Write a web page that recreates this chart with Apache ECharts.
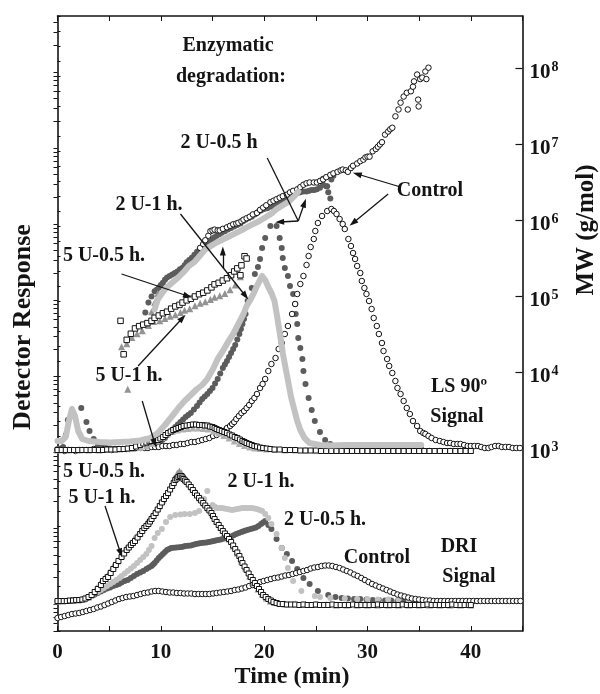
<!DOCTYPE html>
<html>
<head>
<meta charset="utf-8">
<script src="https://cdn.jsdelivr.net/npm/echarts@6/dist/echarts.min.js"></script>
<style>
  html, body { margin: 0; padding: 0; background: #fff; }
  #chart { width: 600px; height: 694px; }
</style>
</head>
<body>
<div id="chart"></div>
<script>
// ---- tick labels ----
const timeLabels = [0, 10, 20, 30, 40];
const mwExponents = [3, 4, 5, 6, 7, 8];

// ---- LS 90° detector response: [time (min), response (a.u.)] ----
const lsControl = [[0,18.1],[0.35,18.1],[0.7,18.0],[1.05,18.1],[1.4,18.1],[1.75,18.0],[2.1,18.1],[2.45,18.1],[2.8,18.1],[3.15,18.1],[3.5,18.2],[3.85,18.1],[4.2,18.1],[4.55,18.2],[4.9,18.2],[5.25,18.1],[5.6,18.2],[5.95,18.2],[6.3,18.2],[6.65,18.2],[7.0,18.2],[7.35,18.3],[7.7,18.3],[8.05,18.3],[8.4,18.3],[8.75,18.3],[9.1,18.4],[9.45,18.4],[9.8,18.4],[10.15,18.5],[10.5,18.5],[10.85,18.5],[11.2,18.6],[11.55,18.6],[11.9,18.7],[12.25,18.7],[12.6,18.8],[12.95,18.9],[13.3,18.9],[13.65,19.0],[14.0,19.1],[14.35,19.2],[14.7,19.3],[15.05,19.5],[15.4,19.6],[15.7,19.8],[16.05,20.0],[16.4,20.3],[16.7,20.5],[16.9,20.7],[17.1,20.9],[17.3,21.2],[17.55,21.5],[17.8,21.8],[18.05,22.0],[18.3,22.3],[18.55,22.6],[18.8,23.0],[19.05,23.3],[19.3,23.7],[19.6,24.3],[19.85,24.7],[20.1,25.2],[20.4,26.0],[20.7,26.7],[21.1,27.3],[21.4,28.2],[21.7,28.8],[22.0,29.7],[22.3,30.5],[22.7,31.7],[23.0,32.7],[23.2,33.7],[23.5,34.7],[23.8,35.5],[24.1,36.6],[24.3,37.5],[24.5,38.4],[24.8,39.2],[24.95,40.0],[25.2,40.8],[25.6,41.5],[26.1,42.0],[26.5,42.2],[26.75,42.0],[27.0,41.7],[27.3,41.2],[27.6,40.7],[27.8,40.2],[28.15,39.2],[28.4,38.5],[28.6,37.8],[28.8,37.2],[29.0,36.5],[29.3,35.8],[29.45,35.0],[29.7,34.3],[29.9,33.7],[30.15,33.0],[30.4,32.2],[30.6,31.3],[30.9,30.5],[31.1,29.7],[31.4,28.8],[31.55,28.0],[31.9,27.2],[32.1,26.5],[32.4,25.8],[32.7,25.0],[32.9,24.3],[33.2,23.7],[33.5,23.0],[33.8,22.3],[34.1,21.7],[34.4,21.0],[34.8,20.5],[35.1,20.0],[35.4,19.8],[35.6,19.7],[35.9,19.5],[36.2,19.3],[36.6,19.1],[37.0,19.0],[37.35,18.9],[37.7,18.8],[38.0,18.8],[38.35,18.7],[38.7,18.7],[39.0,18.7],[39.35,18.6],[39.7,18.5],[40.0,18.5],[40.35,18.5],[40.7,18.5],[41.0,18.4],[41.35,18.3],[41.7,18.3],[42.0,18.4],[42.35,18.5],[42.7,18.5],[43.0,18.4],[43.35,18.4],[43.7,18.4],[44.05,18.3],[44.4,18.3],[44.75,18.3]];

const ls2U05 = [[0,18.2],[0.3,18.25],[0.55,18.4],[0.8,19.6],[1.0,21.1],[2.3,22.3],[2.8,20.9],[3.1,20.0],[3.5,19.2],[3.9,18.5],[4.3,18.35],[4.7,18.3],[5.1,18.25],[5.5,18.2],[5.9,18.2],[6.3,18.2],[6.7,18.2],[7.1,18.2],[7.5,18.25],[7.9,18.3],[8.3,18.35],[8.7,18.45],[9.0,18.5],[9.2,18.6],[9.4,18.7],[9.65,18.8],[9.9,18.9],[10.15,19.1],[10.4,19.3],[10.65,19.6],[10.9,19.9],[11.15,20.15],[11.4,20.4],[11.65,20.65],[11.9,20.9],[12.15,21.15],[12.4,21.4],[12.65,21.6],[12.9,21.8],[13.2,22.15],[13.5,22.5],[13.75,22.85],[14.0,23.2],[14.25,23.45],[14.5,23.7],[14.75,24.0],[15.0,24.3],[15.25,24.75],[15.5,25.2],[15.75,25.75],[16.0,26.3],[16.2,26.65],[16.4,27.0],[16.6,27.4],[16.8,27.8],[17.0,28.2],[17.2,28.6],[17.4,29.15],[17.6,29.7],[17.75,30.2],[17.9,30.7],[18.05,31.2],[18.2,31.7],[18.4,33.0],[18.8,34.3],[19.1,35.7],[19.4,36.4],[19.6,37.2],[19.8,38.3],[20.1,39.3],[20.6,40.5],[21.2,40.5],[21.5,39.3],[21.7,38.3],[21.8,37.3],[22.0,36.3],[22.3,35.5],[22.5,34.5],[22.8,33.7],[23.0,32.7],[23.05,31.7],[23.2,30.7],[23.3,29.3],[23.5,28.3],[23.7,27.2],[23.8,26.0],[24.0,24.7],[24.3,23.3],[24.6,22.1],[24.9,21.0],[25.4,19.9],[25.9,19.1],[26.4,18.7],[27.0,18.4],[27.6,18.3],[28.2,18.25],[28.8,18.2],[29.4,18.2],[30.0,18.2],[30.6,18.2],[31.2,18.2],[31.8,18.2],[32.4,18.2],[33.0,18.2],[33.6,18.2],[34.2,18.2],[34.8,18.2],[35.2,18.2]];

const ls2U1 = [[0,19.0],[0.4,19.0],[0.8,19.4],[1.1,21.0],[1.4,22.2],[1.7,21.5],[2.0,20.0],[2.4,19.2],[3.0,19.0],[4.1,18.9],[5.1,18.85],[6.1,18.9],[7.0,18.95],[8.0,19.05],[9.0,19.3],[9.7,19.8],[10.4,20.6],[11.1,21.5],[11.7,22.3],[12.3,23.0],[13.0,23.7],[13.5,24.2],[14.0,24.6],[14.5,25.2],[15.1,26.3],[15.5,27.2],[16.0,28.0],[16.5,28.9],[17.0,29.7],[17.5,30.7],[18.0,31.7],[18.3,32.5],[18.6,33.0],[19.0,33.8],[19.3,34.5],[19.6,35.1],[19.8,35.5],[20.1,35.1],[20.4,34.4],[20.7,33.8],[21.0,33.0],[21.2,31.8],[21.4,30.5],[21.6,29.2],[21.8,27.8],[22.0,26.7],[22.2,25.6],[22.4,24.5],[22.6,23.4],[22.9,22.2],[23.2,21.0],[23.5,20.1],[23.9,19.3],[24.4,18.8],[25.4,18.6],[26.4,18.55],[28,18.6],[30,18.6],[32,18.6],[35.2,18.6]];

const ls5U05 = [[0,18.1],[0.4,18.1],[0.8,18.1],[1.2,18.1],[1.6,18.1],[2.0,18.1],[2.4,18.1],[2.8,18.1],[3.2,18.1],[3.6,18.1],[4.0,18.1],[4.4,18.1],[4.8,18.15],[5.2,18.15],[5.6,18.15],[6.0,18.2],[6.4,18.2],[6.8,18.25],[7.2,18.3],[7.6,18.45],[8.0,18.6],[8.3,18.75],[8.6,18.85],[8.9,18.95],[9.1,19.0],[9.4,19.05],[9.7,19.1],[9.95,19.25],[10.2,19.4],[10.45,19.6],[10.7,19.8],[10.95,19.95],[11.2,20.1],[11.45,20.2],[11.7,20.3],[11.95,20.4],[12.2,20.5],[12.5,20.55],[12.8,20.6],[13.1,20.65],[13.4,20.65],[13.7,20.6],[14.0,20.6],[14.25,20.55],[14.5,20.55],[14.75,20.45],[15.0,20.4],[15.2,20.3],[15.4,20.2],[15.65,20.1],[15.9,20.0],[16.15,19.9],[16.4,19.8],[16.65,19.65],[16.9,19.55],[17.15,19.4],[17.4,19.3],[17.65,19.15],[17.9,19.0],[18.1,18.9],[18.3,18.8],[18.55,18.7],[18.8,18.6],[19.05,18.5],[19.3,18.45],[19.6,18.35],[19.9,18.3],[20.25,18.25],[20.6,18.2],[21.0,18.15],[21.5,18.15],[22.0,18.1],[22.5,18.1],[23.0,18.1],[23.5,18.05],[24.0,18.05],[24.5,18.05],[25.0,18.05],[25.5,18.0],[26,18.0],[26.5,18.0],[27,18.0],[27.5,18.0],[28,18.0],[28.5,18.0],[29,18.0],[29.5,18.0],[30,18.0],[30.5,18.0],[31,18.0],[31.5,18.0],[32,18.0],[32.5,18.0],[33,18.0],[33.5,18.0],[34,18.0],[34.5,18.0],[35,18.0],[35.5,18.0],[36,18.0],[36.5,18.0],[37,18.0],[37.5,18.0],[38,18.0],[38.5,18.0],[39,18.0],[39.5,18.0],[40,18.0]];

const ls5U1 = [[0,18.1],[1,18.1],[2,18.1],[3,18.1],[4,18.1],[5,18.15],[6,18.2],[7,18.25],[8,18.35],[8.6,18.5],[9.1,18.75],[9.6,19.0],[10.1,19.35],[10.6,19.7],[11.1,19.95],[11.6,20.1],[12.1,20.2],[12.6,20.25],[13.1,20.3],[13.6,20.3],[14.1,20.25],[14.6,20.2],[15.1,20.0],[15.6,19.8],[16.1,19.55],[16.6,19.3],[17.1,19.0],[17.6,18.75],[18.1,18.55],[18.6,18.4],[19.1,18.3],[19.6,18.25],[20.2,18.2],[21,18.15],[22,18.1],[23,18.1],[24,18.1],[25,18.1],[26,18.05],[27,18.05],[28,18.05],[29,18.05],[30,18.05],[31,18.05],[32,18.05],[33,18.05],[34,18.05],[35,18.05],[36,18.05],[37,18.05],[38,18.05],[39,18.05],[40,18.05]];

// ---- molar mass from light scattering: [time (min), log10 MW (g/mol)] ----
const mwControl = [[13.8,5.64],[14.1,5.69],[14.3,5.74],[14.6,5.80],[14.8,5.86],[15.0,5.87],[15.2,5.88],[15.5,5.87],[15.7,5.87],[16.0,5.89],[16.4,5.91],[16.7,5.93],[17.0,5.95],[17.3,5.96],[17.5,5.97],[17.8,5.99],[18.0,6.01],[18.3,6.03],[18.6,6.05],[18.9,6.08],[19.3,6.10],[19.6,6.14],[19.9,6.17],[20.2,6.20],[20.6,6.24],[20.9,6.26],[21.2,6.28],[21.5,6.30],[21.8,6.32],[22.2,6.34],[22.5,6.37],[22.8,6.39],[23.2,6.41],[23.5,6.44],[23.8,6.47],[24.1,6.49],[24.4,6.50],[24.8,6.50],[25.1,6.50],[25.4,6.52],[25.7,6.54],[26.0,6.57],[26.4,6.60],[26.7,6.62],[27.1,6.64],[27.4,6.66],[27.6,6.67],[27.9,6.66],[28.1,6.64],[28.4,6.69],[28.6,6.72],[29.0,6.75],[29.3,6.78],[29.6,6.80],[29.8,6.83],[30.0,6.84],[30.2,6.84],[30.5,6.91],[30.8,6.94],[31.0,6.97],[31.2,7.00],[31.4,7.03],[31.7,7.13],[32.0,7.17],[32.2,7.20],[32.4,7.22],[32.7,7.37],[33.0,7.46],[33.2,7.55],[33.5,7.63],[33.8,7.68],[33.9,7.46],[34.2,7.70],[34.4,7.76],[34.5,7.83],[34.8,7.92],[34.9,7.59],[34.95,7.50],[35.1,7.86],[35.3,7.88],[35.6,7.96],[35.7,7.86],[35.9,8.01]];

const mw2U05 = [[8.5,4.79],[8.8,4.92],[9.1,5.0],[9.4,5.07],[9.6,5.09],[9.8,5.12],[10.0,5.15],[10.2,5.18],[10.4,5.22],[10.6,5.25],[10.85,5.27],[11.1,5.29],[11.35,5.31],[11.6,5.33],[11.85,5.36],[12.1,5.38],[12.3,5.41],[12.5,5.45],[12.75,5.48],[13.0,5.51],[13.25,5.55],[13.5,5.59],[13.75,5.62],[14.0,5.65],[14.25,5.67],[14.5,5.70],[14.75,5.72],[15.0,5.75],[15.2,5.78],[15.4,5.80],[15.65,5.82],[15.9,5.84],[16.2,5.86],[16.5,5.88],[16.8,5.90],[17.1,5.92],[17.4,5.94],[17.7,5.96],[17.95,5.99],[18.2,6.01],[18.5,6.03],[18.8,6.05],[19.1,6.08],[19.4,6.11],[19.7,6.13],[20.0,6.15],[20.3,6.16],[20.6,6.18],[20.9,6.20],[21.2,6.22],[21.45,6.24],[21.7,6.26],[22.0,6.28],[22.3,6.30],[22.6,6.32],[22.9,6.34],[23.2,6.36],[23.5,6.37],[23.8,6.38],[24.1,6.38],[24.35,6.39],[24.6,6.40],[24.85,6.40],[25.1,6.41],[25.4,6.43],[25.7,6.47],[25.7,6.55],[26.0,6.45],[26.1,6.45],[26.2,6.37],[26.4,6.29],[26.5,6.54],[26.7,6.59]];

const mw2U1 = [[9.4,4.83],[9.7,4.96],[10.1,5.04],[10.5,5.11],[11.0,5.17],[11.6,5.24],[12.2,5.32],[12.7,5.40],[13.3,5.46],[13.8,5.54],[14.3,5.62],[14.9,5.67],[15.4,5.71],[16.0,5.75],[16.6,5.79],[17.2,5.83],[17.8,5.87],[18.3,5.91],[18.9,5.95],[19.5,5.99],[20.1,6.04],[20.7,6.09],[21.2,6.15],[21.8,6.20],[22.4,6.25],[23.0,6.33],[23.3,6.38]];

const mw5U05 = [[6.1,4.68],[6.4,4.24],[6.7,4.43],[7.1,4.51],[7.5,4.58],[7.9,4.61],[8.3,4.63],[8.7,4.65],[9.1,4.68],[9.4,4.72],[9.8,4.75],[10.2,4.78],[10.6,4.80],[11.0,4.84],[11.4,4.87],[11.8,4.89],[12.1,4.92],[12.5,4.95],[12.9,4.97],[13.3,5.0],[13.7,5.03],[14.1,5.05],[14.5,5.08],[14.9,5.12],[15.2,5.16],[15.6,5.18],[16.0,5.21],[16.4,5.24],[16.8,5.28],[17.1,5.33],[17.4,5.37],[17.7,5.28],[17.8,5.41],[18.1,5.53],[18.3,5.50]];

const mw5U1 = [[6.8,3.78],[6.2,4.34],[6.7,4.38],[7.2,4.46],[7.7,4.51],[8.2,4.55],[8.8,4.62],[9.1,4.80],[9.4,4.92],[9.7,5.04],[9.3,4.67],[9.9,4.68],[10.4,4.71],[10.9,4.74],[11.4,4.76],[11.9,4.79],[12.3,4.82],[12.8,4.84],[13.3,4.88],[13.8,4.91],[14.3,4.93],[14.8,4.96],[15.2,4.99],[15.7,5.01],[16.2,5.04],[16.7,5.09],[17.2,5.15],[17.7,5.26]];

// ---- DRI detector response: [time (min), response (a.u.)] ----
const driControl = [[0,1.3],[0.35,1.4],[0.7,1.5],[1.05,1.6],[1.4,1.7],[1.75,1.75],[2.1,1.8],[2.45,1.9],[2.8,2.0],[3.15,2.1],[3.5,2.2],[3.85,2.35],[4.2,2.45],[4.55,2.6],[4.9,2.75],[5.25,2.9],[5.6,3.05],[5.95,3.2],[6.3,3.3],[6.65,3.4],[7.0,3.45],[7.35,3.5],[7.7,3.6],[8.05,3.7],[8.4,3.8],[8.75,3.85],[9.1,3.95],[9.45,4.0],[9.8,4.0],[10.15,3.95],[10.5,3.9],[10.85,3.85],[11.2,3.85],[11.55,3.8],[11.9,3.8],[12.25,3.75],[12.6,3.75],[12.95,3.75],[13.3,3.7],[13.65,3.7],[14.0,3.7],[14.35,3.7],[14.7,3.7],[15.05,3.75],[15.4,3.8],[15.75,3.85],[16.1,3.9],[16.45,3.95],[16.8,4.0],[17.15,4.1],[17.5,4.15],[17.85,4.25],[18.2,4.35],[18.55,4.5],[18.9,4.6],[19.25,4.75],[19.6,4.9],[19.95,5.0],[20.3,5.1],[20.65,5.2],[21.0,5.3],[21.35,5.35],[21.7,5.45],[22.05,5.55],[22.4,5.6],[22.75,5.7],[23.1,5.8],[23.45,5.9],[23.8,6.0],[24.15,6.1],[24.5,6.25],[24.85,6.35],[25.2,6.4],[25.55,6.5],[25.9,6.55],[26.25,6.55],[26.6,6.5],[26.95,6.4],[27.3,6.3],[27.65,6.15],[28.0,6.0],[28.35,5.85],[28.7,5.65],[29.05,5.5],[29.4,5.3],[29.75,5.1],[30.1,4.9],[30.45,4.7],[30.8,4.55],[31.15,4.4],[31.5,4.25],[31.85,4.1],[32.2,3.95],[32.55,3.8],[32.9,3.65],[33.25,3.55],[33.6,3.45],[33.95,3.35],[34.3,3.25],[34.65,3.2],[35.0,3.15],[35.35,3.1],[35.7,3.05],[36.05,3.05],[36.4,3.0],[36.75,3.0],[37.1,3.0],[37.45,3.0],[37.8,3.0],[38.15,3.0],[38.5,3.0],[38.85,3.0],[39.2,3.0],[39.55,3.0],[39.9,3.0],[40.25,3.0],[40.6,3.0],[40.95,3.0],[41.3,3.0],[41.65,3.0],[42.0,3.0],[42.35,3.0],[42.7,3.0],[43.05,3.0],[43.4,3.0],[43.75,3.0],[44.1,3.0],[44.45,3.0],[44.8,3.0]];

const dri2U05 = [[0,3.0],[0.35,3.0],[0.7,3.0],[1.05,3.0],[1.4,3.05],[1.75,3.05],[2.1,3.1],[2.45,3.15],[2.8,3.25],[3.05,3.35],[3.3,3.5],[3.6,3.65],[3.9,3.8],[4.2,3.95],[4.5,4.1],[4.8,4.25],[5.1,4.35],[5.4,4.5],[5.7,4.6],[5.95,4.7],[6.2,4.85],[6.5,5.0],[6.8,5.1],[7.1,5.3],[7.4,5.5],[7.7,5.7],[8.0,5.85],[8.3,6.0],[8.6,6.2],[8.85,6.35],[9.1,6.5],[9.25,6.65],[9.4,6.8],[9.6,7.05],[9.8,7.3],[10.0,7.5],[10.2,7.7],[10.4,7.9],[10.6,8.1],[10.8,8.2],[11.0,8.3],[11.25,8.33],[11.5,8.35],[11.75,8.38],[12.0,8.4],[12.2,8.45],[12.4,8.5],[12.65,8.52],[12.9,8.55],[13.15,8.62],[13.4,8.7],[13.65,8.75],[13.9,8.8],[14.15,8.82],[14.4,8.85],[14.65,8.9],[14.9,8.95],[15.1,9.0],[15.3,9.05],[15.55,9.1],[15.8,9.15],[16.05,9.22],[16.3,9.3],[16.55,9.38],[16.8,9.45],[17.05,9.58],[17.3,9.7],[17.55,9.8],[17.8,9.9],[18.0,9.98],[18.2,10.05],[18.45,10.12],[18.7,10.2],[18.95,10.28],[19.2,10.35],[19.45,10.5],[19.7,10.7],[19.9,10.85],[20.1,11.0],[20.4,10.6],[20.7,10.2],[21.2,9.2],[21.7,8.3],[22.2,7.7],[22.7,7.0],[23.2,6.2],[23.8,5.3],[24.4,4.7],[25.2,4.0],[26.2,3.6],[26.9,3.4],[27.5,3.3],[28.1,3.25],[28.7,3.2],[29.3,3.2],[29.9,3.15],[30.5,3.1],[31.1,3.1],[31.7,3.05],[32.3,3.05],[32.9,3.0],[33.5,3.0],[34.1,3.0],[34.7,3.0],[35.2,3.0]];

const dri2U1 = [[0,3.0],[0.7,3.0],[1.4,3.05],[2.1,3.1],[2.7,3.3],[3.3,3.5],[3.9,3.9],[4.2,4.1],[4.5,4.3],[4.8,4.5],[5.1,4.7],[5.4,4.9],[5.7,5.1],[6.0,5.3],[6.2,5.5],[6.5,5.75],[6.8,6.0],[7.1,6.25],[7.4,6.5],[7.7,6.8],[8.0,7.1],[8.3,7.4],[8.6,7.7],[8.85,8.1],[9.1,8.5],[9.4,9.3],[9.7,9.8],[10.1,10.2],[10.5,10.9],[10.9,11.4],[11.4,11.6],[11.9,11.65],[12.3,11.7],[12.8,11.7],[13.3,11.8],[13.7,12.0],[14.2,13.2],[14.5,14.0],[15.0,12.6],[15.2,12.45],[15.4,12.3],[15.65,12.3],[15.9,12.3],[16.15,12.25],[16.4,12.2],[16.65,12.15],[16.9,12.1],[17.15,12.15],[17.4,12.2],[17.65,12.25],[17.9,12.3],[18.1,12.3],[18.3,12.3],[18.55,12.3],[18.8,12.3],[19.05,12.25],[19.3,12.2],[19.55,12.1],[19.8,12.0],[20.1,11.7],[20.4,11.3],[20.7,10.7],[21.2,9.7],[21.7,8.3],[22.0,7.3],[22.3,6.3],[22.8,5.0],[23.6,4.0],[24.9,3.5],[25.4,3.4],[26.4,3.3],[27.8,3.25],[29,3.2],[30,3.2],[31,3.15],[32,3.15],[33,3.15],[34,3.15],[35,3.15]];

const dri5U05 = [[0,3.0],[0.3,3.0],[0.6,3.0],[0.9,3.0],[1.2,3.05],[1.5,3.05],[1.8,3.1],[2.1,3.1],[2.4,3.15],[2.7,3.25],[3.0,3.4],[3.3,3.6],[3.6,3.9],[3.9,4.2],[4.2,4.6],[4.4,5.0],[4.65,5.2],[4.9,5.4],[5.15,5.8],[5.4,6.2],[5.65,6.6],[5.9,7.0],[6.2,7.4],[6.45,7.75],[6.7,8.1],[6.9,8.35],[7.1,8.6],[7.3,8.8],[7.5,9.0],[7.75,9.35],[8.0,9.7],[8.2,10.0],[8.4,10.3],[8.6,10.5],[8.8,10.7],[8.95,10.95],[9.1,11.2],[9.3,11.5],[9.5,11.8],[9.7,12.15],[9.9,12.5],[10.1,12.85],[10.3,13.2],[10.5,13.5],[10.7,13.8],[10.9,14.15],[11.1,14.5],[11.25,14.8],[11.4,15.1],[11.55,15.25],[11.7,15.4],[11.85,15.5],[12.0,15.5],[12.1,15.35],[12.2,15.2],[12.35,15.05],[12.5,14.9],[12.7,14.65],[12.9,14.4],[13.1,14.1],[13.3,13.8],[13.5,13.55],[13.7,13.3],[13.9,13.05],[14.1,12.8],[14.3,12.55],[14.5,12.3],[14.7,12.05],[14.9,11.8],[15.05,11.5],[15.2,11.2],[15.4,10.9],[15.6,10.6],[15.8,10.3],[16.0,10.0],[16.2,9.75],[16.4,9.5],[16.6,9.2],[16.8,8.9],[17.0,8.55],[17.2,8.2],[17.4,7.85],[17.6,7.5],[17.75,7.15],[17.9,6.8],[18.1,6.45],[18.3,6.1],[18.5,5.75],[18.7,5.4],[18.9,5.1],[19.1,4.8],[19.3,4.5],[19.5,4.2],[19.7,3.9],[19.9,3.6],[20.15,3.4],[20.4,3.2],[20.65,3.05],[20.9,2.9],[21.2,2.8],[21.5,2.7],[21.8,2.7],[22.2,2.65],[22.6,2.65],[23.0,2.65],[23.4,2.6],[23.8,2.65],[24.2,2.6],[24.6,2.6],[25.0,2.65],[25.4,2.6],[25.8,2.6],[26.2,2.6],[26.6,2.65],[27.0,2.6],[27.4,2.6],[27.8,2.6],[28.2,2.6],[28.6,2.65],[29.0,2.6],[29.4,2.6],[29.8,2.6],[30.2,2.6],[30.6,2.6],[31.0,2.65],[31.4,2.6],[31.8,2.6],[32.2,2.6],[32.6,2.6],[33.0,2.6],[33.4,2.65],[33.8,2.6],[34.2,2.6],[34.6,2.6],[35.0,2.6],[35.4,2.6],[35.8,2.65],[36.2,2.6],[36.6,2.6],[37.0,2.6],[37.4,2.6],[37.8,2.6],[38.2,2.65],[38.6,2.6],[39.0,2.6],[39.4,2.6],[39.8,2.6],[40.0,2.6]];

const dri5U1 = [[0,3.0],[0.5,3.0],[1,3.05],[1.5,3.1],[2,3.1],[2.5,3.2],[3,3.4],[3.4,3.7],[3.8,4.3],[4.2,4.9],[4.6,5.4],[5.0,5.9],[5.4,6.5],[5.8,7.0],[6.2,7.6],[6.6,8.2],[7.0,8.7],[7.4,9.2],[7.8,9.7],[8.2,10.3],[8.6,10.8],[9.0,11.3],[9.4,11.9],[9.8,12.5],[10.2,13.1],[10.6,13.8],[11.0,14.6],[11.3,15.3],[11.6,15.8],[11.8,16.0],[12.0,15.8],[12.3,15.4],[12.6,15.0],[13.0,14.4],[13.4,13.9],[13.8,13.3],[14.2,12.8],[14.6,12.3],[15.0,11.7],[15.4,11.0],[15.8,10.4],[16.2,9.8],[16.6,9.2],[17.0,8.5],[17.4,7.8],[17.8,7.0],[18.2,6.3],[18.6,5.5],[19.0,4.8],[19.4,4.2],[19.8,3.7],[20.2,3.3],[20.6,3.0],[21.0,2.85],[21.5,2.75],[22,2.7],[23,2.7],[24,2.65],[25,2.65],[26,2.65],[27,2.6],[28,2.6],[29,2.6],[30,2.6],[31,2.6],[32,2.6],[33,2.6],[34,2.6],[35,2.6],[36,2.6],[37,2.6],[38,2.6],[39,2.6],[40,2.6]];

// ---- styling ----
const SERIF = '"Liberation Serif", "Times New Roman", serif';
const INK = '#141414';
const DARK = '#5c5c5c';
const LIGHT = '#c2c2c2';
const MID = '#939393';

// right axis span in log10 units, ticks at every 1..9 x 10^n
const LOG_MIN = 0.6, LOG_MAX = 8.69;
const minorLogTicks = [];
for (let n = 0; n <= 8; n++) {
  for (let k = 2; k <= 9; k++) {
    const v = n + Math.log10(k);
    if (v > LOG_MIN && v < LOG_MAX) minorLogTicks.push(v);
  }
}

function dots(data, yAxisIndex, symbol, size, fill, stroke) {
  return {
    type: 'scatter', xAxisIndex: 0, yAxisIndex, data, symbol, symbolSize: size,
    silent: true, animation: false,
    itemStyle: { color: fill, borderColor: stroke || fill, borderWidth: stroke ? 1 : 0, opacity: 1 }
  };
}
function band(data, yAxisIndex, color, width) {
  return {
    type: 'line', xAxisIndex: 0, yAxisIndex, data, showSymbol: false, symbol: 'none',
    silent: true, animation: false,
    lineStyle: { color, width, cap: 'round', join: 'round' }
  };
}

// annotation arrows in [time, response] units: [from, to, arrowhead]
const arrowPaths = [
  [[20.3, 47.3], [23.3, 41.0], false],
  [[23.3, 41.0], [21.5, 40.9], true],
  [[23.3, 41.0], [23.9, 42.8], true],
  [[33.2, 44.4], [29.0, 45.7], true],
  [[32.0, 43.7], [28.6, 40.8], true],
  [[11.9, 41.7], [18.2, 33.5], true],
  [[16.0, 36.2], [16.0, 38.0], true],
  [[6.2, 35.7], [12.6, 33.5], true],
  [[7.8, 26.5], [12.1, 31.3], true],
  [[8.2, 23.0], [9.4, 18.8], true],
  [[4.6, 12.5], [6.1, 7.8], true]
];

const notes = [
  ['Enzymatic', 228, 46], ['degradation:', 231, 77],
  ['2 U-0.5 h', 219, 143], ['Control', 430, 191], ['2 U-1 h.', 149, 205],
  ['5 U-0.5 h.', 104, 256], ['5 U-1 h.', 129, 376],
  ['LS 90º', 459, 387], ['Signal', 457, 417],
  ['5 U-0.5 h.', 104, 472], ['5 U-1 h.', 102, 498], ['2 U-1 h.', 261, 482],
  ['2 U-0.5 h.', 325, 520], ['Control', 377, 558], ['DRI', 459, 547], ['Signal', 469, 577]
];

const centred = { align: 'center', verticalAlign: 'middle', textAlign: 'center', textVerticalAlign: 'middle' };
const graphics = notes.map(([text, x, y]) => ({
  type: 'text', x, y, silent: true,
  style: Object.assign({ text, font: 'bold 20px ' + SERIF, fill: INK }, centred)
}));
graphics.push(
  { type: 'text', x: 292, y: 677, silent: true,
    style: Object.assign({ text: 'Time (min)', font: 'bold 24px ' + SERIF, fill: INK }, centred) },
  { type: 'text', x: 23, y: 327, rotation: Math.PI / 2, silent: true,
    style: Object.assign({ text: 'Detector Response', font: 'bold 26px ' + SERIF, fill: INK }, centred) },
  { type: 'text', x: 587, y: 230, rotation: Math.PI / 2, silent: true,
    style: Object.assign({ text: 'MW (g/mol)', font: 'bold 25px ' + SERIF, fill: INK }, centred) }
);

const frameLine = { show: true, onZero: false, lineStyle: { color: INK, width: 1.6 } };

const chart = echarts.init(document.getElementById('chart'), null, { renderer: 'canvas' });
chart.setOption({
  animation: false,
  backgroundColor: '#fff',
  grid: { left: 57.5, right: 77.5, top: 16, bottom: 63, containLabel: false },
  xAxis: [
    { type: 'value', position: 'bottom', min: 0, max: 45, interval: 5,
      axisLine: frameLine, splitLine: { show: false },
      axisTick: { inside: true, length: 5, lineStyle: { color: INK, width: 1 } },
      axisLabel: { margin: 11, color: INK, fontFamily: SERIF, fontWeight: 'bold', fontSize: 21,
                   formatter: v => (timeLabels.indexOf(v) >= 0 ? String(v) : '') } },
    { type: 'value', position: 'top', min: 0, max: 45, interval: 5,
      axisLine: frameLine, splitLine: { show: false },
      axisTick: { inside: true, length: 5, lineStyle: { color: INK, width: 1 } },
      axisLabel: { show: false } }
  ],
  yAxis: [
    { type: 'value', position: 'left', min: 0, max: 61.5, interval: 1.5,
      axisLine: frameLine, splitLine: { show: false },
      axisTick: { inside: true, length: 3, lineStyle: { color: INK, width: 1 } },
      axisLabel: { show: false } },
    { type: 'value', position: 'right', min: LOG_MIN, max: LOG_MAX,
      axisLine: frameLine, splitLine: { show: false },
      axisTick: { inside: true, length: 7, customValues: mwExponents, lineStyle: { color: INK, width: 1.2 } },
      axisLabel: { customValues: mwExponents, margin: 7, color: INK, padding: [8, 0, 0, 0],
                   formatter: v => (mwExponents.indexOf(v) >= 0 ? '{b|10}{s|' + v + '}' : ''),
                   rich: { b: { fontFamily: SERIF, fontWeight: 'bold', fontSize: 21, color: INK },
                           s: { fontFamily: SERIF, fontWeight: 'bold', fontSize: 14, color: INK, padding: [0, 0, 11, 1] } } } },
    { type: 'value', position: 'right', min: LOG_MIN, max: LOG_MAX,
      axisLine: { show: false }, splitLine: { show: false },
      axisTick: { inside: true, length: 4, customValues: minorLogTicks, lineStyle: { color: INK, width: 1 } },
      axisLabel: { show: false } }
  ],
  graphic: graphics,
  series: [
    // 2 U - 0.5 h (dark grey)
    dots(ls2U05, 0, 'circle', 6, DARK),
    dots(mw2U05, 1, 'circle', 6, DARK),
    dots(dri2U05, 0, 'circle', 6, DARK),
    // 2 U - 1 h (light grey)
    band(ls2U1, 0, LIGHT, 6),
    band(mw2U1, 1, LIGHT, 6),
    dots(dri2U1, 0, 'circle', 6, LIGHT),
    // control (open circles)
    dots(lsControl, 0, 'circle', 5.5, '#fff', INK),
    dots(mwControl, 1, 'circle', 5.5, '#fff', INK),
    dots(driControl, 0, 'circle', 5.5, '#fff', INK),
    // 5 U - 1 h (grey triangles)
    dots(ls5U1, 0, 'triangle', 7, '#b0b0b0'),
    dots(mw5U1, 1, 'triangle', 7, MID),
    dots(dri5U1, 0, 'triangle', 7, MID),
    // 5 U - 0.5 h (open squares)
    dots(ls5U05, 0, 'rect', 5, '#fff', INK),
    dots(mw5U05, 1, 'rect', 5.5, '#fff', INK),
    dots(dri5U05, 0, 'rect', 5, '#fff', INK),
    // annotation arrows
    { type: 'scatter', xAxisIndex: 0, yAxisIndex: 0, data: [], silent: true,
      markLine: {
        silent: true, animation: false, symbolSize: [6, 9],
        lineStyle: { color: INK, width: 1.3, type: 'solid' },
        label: { show: false },
        data: arrowPaths.map(([a, b, head]) => [
          { coord: a, symbol: 'none' },
          { coord: b, symbol: head ? 'triangle' : 'none' }
        ])
      } }
  ]
});
</script>
</body>
</html>
